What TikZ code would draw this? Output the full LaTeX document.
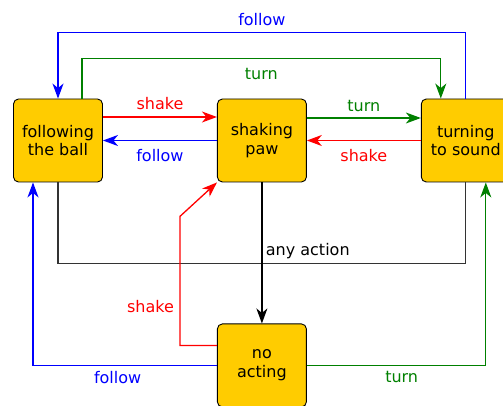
\documentclass[tikz,border=0pt]{standalone}
\usepackage{fontspec}
\setmainfont{DejaVu Sans}
\usepackage{tikz}
\usetikzlibrary{positioning,arrows.meta}

\definecolor{boxfill}{HTML}{FFCC00}
\definecolor{turngreen}{HTML}{008000}

\begin{document}
\begin{tikzpicture}[
				x=1pt, y=-1pt,
				statenode/.style={rectangle, rounded corners=5pt, draw=black, line width=0.9pt, fill=boxfill,
					minimum width=89pt, minimum height=83pt, align=center, font=\fontsize{16}{18.5}\selectfont},
				edge/.style={line width=1.3pt, -{Stealth[length=15pt, width=11pt, inset=4.5pt]}},
				lbl/.style={font=\fontsize{16}{18.5}\selectfont},
				node distance=114pt
			]

			\useasboundingbox (0,0) rectangle (503,406);

			\node[statenode] (following) at (58,140.5) {following\\the ball};
			\node[statenode] (shaking) [right=of following] {shaking\\paw};
			\node[statenode] (turning) [right=of shaking] {turning\\to sound};
			\node[statenode] (noacting) [below=141pt of shaking] {no\\acting};

			% top loops
			\draw[edge, blue] (turning.north) -- ++(0,-66) -| node[lbl, pos=0.25, above=3pt] {follow} (following.north);
			\draw[edge, turngreen] ([xshift=24pt]following.north) -- ++(0,-40) -| node[lbl, pos=0.25, below=6pt] {turn} ([xshift=-25pt]turning.north);

			% between neighbours
			\draw[edge, red] ([yshift=23.5pt]following.east) -- node[lbl, above=3pt] {shake} ([yshift=23.5pt]shaking.west);
			\draw[edge, blue] (shaking.west) -- node[lbl, below=5pt] {follow} (following.east);
			\draw[edge, turngreen] ([yshift=22.5pt]shaking.east) -- node[lbl, above=2pt] {turn} ([yshift=22.5pt]turning.east -| turning.west);
			\draw[edge, red] (turning.west) -- node[lbl, below=5pt] {shake} (shaking.east);

			% any action
			\draw[line width=1.3pt, black!80] (following.south) -- ++(0,81) -| (turning.south);
			\draw[edge, black] (shaking.south) -- node[lbl, pos=0.49, right] {any action} (noacting.north);

			% from no acting
			\draw[edge, red] ([yshift=20pt]noacting.west) -- ++(-37,0) -- node[lbl, pos=0.3, left=2pt] {shake} ++(0,-129) -- (shaking.south west);
			\draw[edge, blue] (noacting.west) -| node[lbl, pos=0.27, below=2pt] {follow} ([xshift=-25pt]following.south);
			\draw[edge, turngreen] (noacting.east) -| node[lbl, pos=0.265, below=2pt] {turn} ([xshift=20pt]turning.south);

		\end{tikzpicture}
\end{document}
